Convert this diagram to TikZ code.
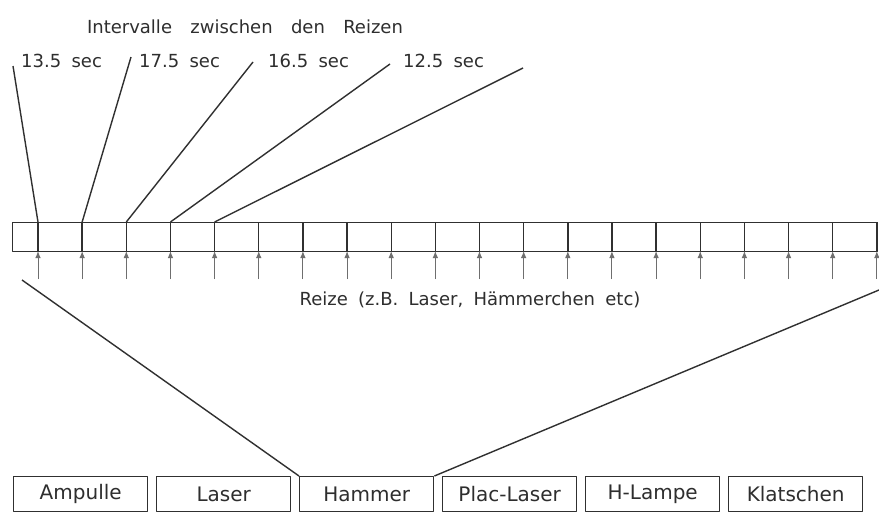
\documentclass[tikz,border=0pt]{standalone}
\usepackage{fontspec}
\setmainfont{DejaVu Sans}[WordSpace=1.8]
\newfontfamily\widefont{DejaVu Sans}[WordSpace=3.2]
\usetikzlibrary{arrows.meta}
\definecolor{ink}{HTML}{303030}
\definecolor{txt}{HTML}{2E2E2E}
\begin{document}
\begin{tikzpicture}[x=1pt, y=-1pt, line join=round,
  link/.style={draw=ink, line width=1.4pt},
  stim/.style={draw=ink!70, line width=1pt, -{Latex[length=7pt,width=5.5pt]}},
  lbl/.style={text=txt, inner sep=0pt, font=\fontsize{18}{20}\selectfont},
  widelbl/.style={text=txt, inner sep=0pt, font=\widefont\fontsize{18}{20}\selectfont},
  item/.style={draw=ink, line width=1.4pt, minimum width=134pt, minimum height=35pt,
    inner sep=0pt, anchor=north west, text=txt, font=\fontsize{20}{22}\selectfont}]
\useasboundingbox[fill=white] (0,0) rectangle (879,522);

% row of stimulus slots
\node[draw=ink, line width=1.4pt, minimum width=865pt, minimum height=29pt,
  inner sep=0pt, anchor=north west] (strip) at (12,222) {};
\foreach \k in {0,...,19} {
  \coordinate (d\k) at ({38+44.15*\k},222);
  \coordinate (e\k) at ({38+44.15*\k},251);
  \coordinate (s\k) at ({38+44.15*\k},279);
  \draw[link] (d\k) -- (e\k);
  \draw[stim] (s\k) -- (e\k);
}

% interval leaders
\coordinate (p0) at (13,66);
\coordinate (p1) at (131,57);
\coordinate (p2) at (253,62);
\coordinate (p3) at (390,64);
\coordinate (p4) at (523,68);
\foreach \k in {0,...,4} { \draw[link] (p\k) -- (d\k); }

\node[widelbl] (title) at (245,27) {Intervalle zwischen den Reizen};
\node[lbl, anchor=west] (i1) at (21,61) {13.5 sec};
\node[lbl, anchor=west] (i2) at (139,61) {17.5 sec};
\node[lbl, anchor=west] (i3) at (268,61) {16.5 sec};
\node[lbl, anchor=west] (i4) at (403,61) {12.5 sec};

\node[lbl] (reize) at (470,300) {Reize (z.B. Laser, Hämmerchen etc)};

% stimulus types
\node[item] (ampulle) at (13,476) {Ampulle};
\node[item] (laser) at (156,476) {Laser};
\node[item] (hammer) at (299,476) {Hammer};
\node[item] (plac) at (442,476) {Plac-Laser};
\node[item] (lampe) at (585,476) {H-Lampe};
\node[item] (klatschen) at (728,476) {Klatschen};

% zoom lines from the slot row to the chosen stimulus
\coordinate (zl) at (22,280);
\coordinate (zr) at (879,290);
\draw[link] (zl) -- (hammer.north west);
\draw[link] (hammer.north east) -- (zr);
\end{tikzpicture}
\end{document}
